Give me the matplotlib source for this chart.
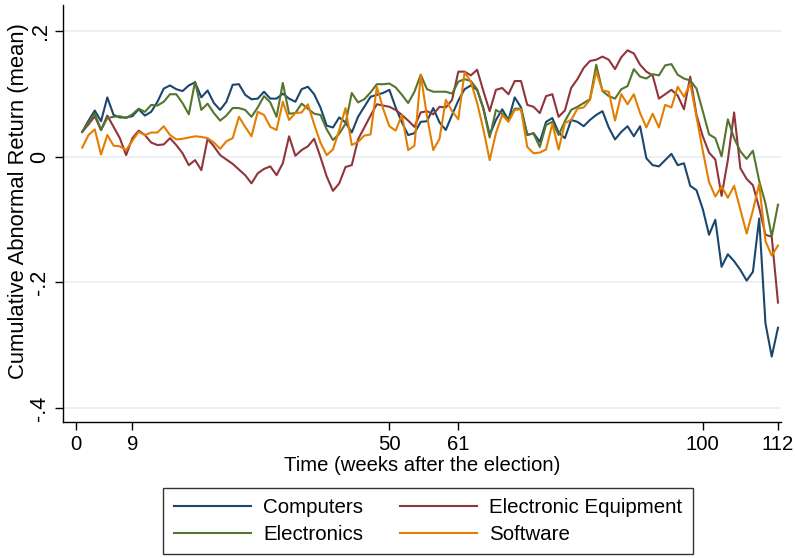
import numpy as np
import matplotlib
matplotlib.use("Agg")
from matplotlib import pyplot as plt

weeks = list(range(1, 113))

computers = [
    0.040, 0.058, 0.074, 0.057, 0.095, 0.067, 0.063, 0.063, 0.065, 0.076,
    0.066, 0.072, 0.088, 0.109, 0.114, 0.108, 0.105, 0.114, 0.119, 0.095,
    0.106, 0.086, 0.075, 0.088, 0.115, 0.116, 0.099, 0.092, 0.093, 0.104,
    0.093, 0.093, 0.101, 0.093, 0.088, 0.108, 0.112, 0.100, 0.079, 0.050,
    0.047, 0.063, 0.055, 0.039, 0.064, 0.080, 0.096, 0.099, 0.102, 0.107,
    0.079, 0.055, 0.035, 0.038, 0.056, 0.057, 0.078, 0.055, 0.043, 0.067,
    0.090, 0.108, 0.114, 0.107, 0.078, 0.035, 0.059, 0.076, 0.059, 0.095,
    0.079, 0.035, 0.038, 0.024, 0.056, 0.062, 0.039, 0.030, 0.059, 0.056,
    0.049, 0.059, 0.067, 0.073, 0.047, 0.028, 0.040, 0.049, 0.033, 0.049,
    -0.002, -0.013, -0.015, -0.005, 0.005, -0.013, -0.010, -0.046, -0.053, -0.083,
    -0.124, -0.100, -0.175, -0.155, -0.166, -0.180, -0.197, -0.183, -0.098, -0.265,
    -0.318, -0.272,
]

elec_equipment = [
    0.040, 0.052, 0.065, 0.043, 0.066, 0.048, 0.030, 0.003, 0.030, 0.042,
    0.035, 0.023, 0.019, 0.020, 0.030, 0.019, 0.006, -0.013, -0.005, -0.021,
    0.029, 0.017, 0.003, -0.004, -0.011, -0.020, -0.029, -0.042, -0.026, -0.019,
    -0.015, -0.029, -0.010, 0.033, 0.002, 0.011, 0.017, 0.029, 0.000, -0.031,
    -0.054, -0.042, -0.016, -0.013, 0.028, 0.047, 0.066, 0.084, 0.082, 0.080,
    0.075, 0.067, 0.058, 0.048, 0.071, 0.073, 0.068, 0.080, 0.079, 0.091,
    0.136, 0.136, 0.130, 0.139, 0.105, 0.073, 0.107, 0.110, 0.100, 0.121,
    0.121, 0.083, 0.080, 0.070, 0.097, 0.100, 0.064, 0.074, 0.110, 0.124,
    0.142, 0.153, 0.155, 0.160, 0.155, 0.140, 0.159, 0.170, 0.165, 0.147,
    0.136, 0.130, 0.093, 0.100, 0.107, 0.098, 0.076, 0.128, 0.067, 0.033,
    0.007, -0.004, -0.062, -0.005, 0.071, -0.018, -0.035, -0.045, -0.081, -0.124,
    -0.127, -0.232,
]

electronics = [
    0.040, 0.055, 0.069, 0.043, 0.062, 0.064, 0.065, 0.062, 0.068, 0.077,
    0.072, 0.083, 0.082, 0.088, 0.100, 0.100, 0.086, 0.068, 0.120, 0.075,
    0.085, 0.070, 0.058, 0.066, 0.078, 0.078, 0.075, 0.064, 0.079, 0.097,
    0.087, 0.064, 0.118, 0.069, 0.070, 0.085, 0.077, 0.069, 0.067, 0.044,
    0.027, 0.037, 0.053, 0.102, 0.087, 0.092, 0.103, 0.116, 0.116, 0.117,
    0.111, 0.099, 0.086, 0.104, 0.131, 0.108, 0.104, 0.104, 0.104, 0.101,
    0.120, 0.124, 0.121, 0.108, 0.076, 0.031, 0.075, 0.069, 0.059, 0.077,
    0.077, 0.036, 0.037, 0.016, 0.051, 0.056, 0.035, 0.057, 0.075, 0.080,
    0.086, 0.092, 0.147, 0.105, 0.097, 0.093, 0.108, 0.113, 0.140, 0.128,
    0.125, 0.132, 0.130, 0.146, 0.148, 0.131, 0.125, 0.122, 0.109, 0.073,
    0.036, 0.030, 0.001, 0.060, 0.030, 0.009, -0.003, 0.010, -0.038, -0.074,
    -0.127, -0.076,
]

software = [
    0.015, 0.035, 0.044, 0.004, 0.035, 0.018, 0.017, 0.011, 0.026, 0.040,
    0.035, 0.039, 0.039, 0.049, 0.035, 0.028, 0.029, 0.031, 0.033, 0.032,
    0.030, 0.023, 0.013, 0.025, 0.030, 0.064, 0.048, 0.033, 0.072, 0.067,
    0.048, 0.043, 0.088, 0.059, 0.070, 0.071, 0.084, 0.052, 0.023, 0.003,
    0.012, 0.043, 0.078, 0.019, 0.024, 0.034, 0.036, 0.112, 0.077, 0.049,
    0.042, 0.067, 0.011, 0.018, 0.131, 0.065, 0.011, 0.029, 0.091, 0.073,
    0.060, 0.135, 0.120, 0.086, 0.044, -0.005, 0.038, 0.067, 0.056, 0.075,
    0.076, 0.016, 0.006, 0.007, 0.012, 0.053, 0.012, 0.054, 0.059, 0.077,
    0.079, 0.091, 0.136, 0.106, 0.104, 0.058, 0.100, 0.084, 0.100, 0.070,
    0.047, 0.069, 0.047, 0.083, 0.079, 0.112, 0.096, 0.117, 0.064, 0.010,
    -0.040, -0.063, -0.047, -0.065, -0.046, -0.084, -0.122, -0.085, -0.043, -0.134,
    -0.157, -0.141,
]

xticks = [0, 9, 50, 61, 100, 112]
yticks = [-0.4, -0.2, 0, 0.2]
ytick_labels = ["-.4", "-.2", "0", ".2"]

series = [
    ("Computers", computers, "#1a476f"),
    ("Electronic Equipment", elec_equipment, "#90353b"),
    ("Electronics", electronics, "#55752f"),
    ("Software", software, "#e37e00"),
]

plt.rcParams["font.family"] = ["Liberation Sans", "DejaVu Sans"]

W, H = 795, 558
fig = plt.figure(figsize=(W / 100, H / 100), dpi=100)
# axes box in pixel terms: left 63, right 781, top 5, bottom 422
ax = fig.add_axes([63 / W, 1 - 422 / H, (781 - 63) / W, (422 - 5) / H])

lines = {}
for name, vals, col in series:
    lines[name], = ax.plot(weeks, vals, color=col, lw=1.5, label=name)

ax.set_xlim(-2.07, 112.48)
ax.set_ylim(-0.4223, 0.2422)

ax.set_yticks(yticks)
ax.set_yticklabels(ytick_labels, rotation=90, va="center", fontsize=15.5)
ax.set_xticks(xticks)
ax.yaxis.grid(True, color="#e6eef1", lw=1.2)
ax.set_axisbelow(True)

for s in ["top", "right"]:
    ax.spines[s].set_visible(False)
for s in ["left", "bottom"]:
    ax.spines[s].set_linewidth(1.0)
ax.tick_params(direction="out", length=6, width=1.0, pad=4)
ax.tick_params(axis="x", labelsize=14.6, pad=3)
ax.tick_params(axis="y", pad=3)

ax.set_xlabel("Time (weeks after the election)", fontsize=14.6, labelpad=2)
ax.set_ylabel("Cumulative Abnormal Return (mean)", fontsize=15.8)
ax.yaxis.set_label_coords(-0.048, 0.53)

# two columns, filled row by row
order = ["Computers", "Electronics", "Electronic Equipment", "Software"]
leg = fig.legend([lines[k] for k in order], order, ncol=2, loc="center",
                 bbox_to_anchor=(428 / W, 1 - 521 / H), fontsize=14.8,
                 frameon=True, fancybox=False, edgecolor="black",
                 handlelength=3.75, handletextpad=0.6, columnspacing=1.8,
                 labelspacing=0.4, borderpad=0.5)
leg.get_frame().set_linewidth(1.0)

fig.savefig("out.png", dpi=100, facecolor="white")
